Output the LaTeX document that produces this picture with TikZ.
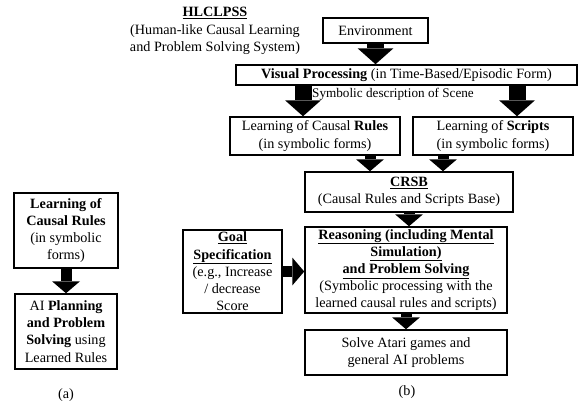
\documentclass[tikz,border=0pt]{standalone}
\usepackage{fontspec}
\setmainfont{Liberation Serif}
\usetikzlibrary{arrows.meta,positioning}

\begin{document}
\begin{tikzpicture}[x=1pt,y=-1pt,
		font=\fontsize{14.2}{17.2}\selectfont,
		box node/.style={rectangle,draw,line width=1.5pt,align=center,inner sep=0pt},
		fat arrow/.style={line width=17pt,-{Triangle[length=16pt,width=36pt,line width=0pt]}},
		thin arrow/.style={line width=11pt,-{Triangle[length=12pt,width=28pt,line width=0pt]}}]

		\useasboundingbox (0,0) rectangle (581,405);

		% (a)
		\node[box node,minimum width=104pt,minimum height=75pt] (lrules) at (66,230.5)
			{\textbf{Learning of}\\\textbf{Causal Rules}\\(in symbolic\\forms)};
		\node[box node,minimum width=102pt,minimum height=75pt] (lplan) at (66,331.5)
			{AI \textbf{Planning}\\\textbf{and Problem}\\\textbf{Solving} using\\Learned Rules};
		\node (capa) at (66,395) {(a)};

		% (b)
		\node[align=center] (title) at (215,31)
			{\underline{\textbf{HLCLPSS}}\\(Human-like Causal Learning\\and Problem Solving System)};
		\node[box node,minimum width=105pt,minimum height=25pt] (env) at (375.5,30.5) {Environment};
		\node[box node,minimum width=341pt,minimum height=20pt] (vis) at (406.5,75)
			{\textbf{Visual Processing} (in Time-Based/Episodic Form)};
		\node[font=\fontsize{13.2}{15}\selectfont] (scene) at (393,94) {Symbolic description of Scene};
		\node[box node,minimum width=170pt,minimum height=38pt] (rules) at (315,136)
			{Learning of Causal \textbf{Rules}\\(in symbolic forms)};
		\node[box node,minimum width=160pt,minimum height=38pt] (scripts) at (493,136)
			{Learning of \textbf{Scripts}\\(in symbolic forms)};
		\node[box node,minimum width=208pt,minimum height=40pt] (crsb) at (409,192)
			{\underline{\textbf{CRSB}}\\(Causal Rules and Scripts Base)};
		\node[box node,minimum width=202pt,minimum height=86pt] (reason) at (406,270)
			{\underline{\textbf{Reasoning (including Mental}}\\\underline{\textbf{Simulation)}}\\
			\underline{\textbf{and Problem Solving}}\\(Symbolic processing with the\\learned causal rules and scripts)};
		\node[box node,minimum width=99pt,minimum height=83pt] (goal) at (232.5,271.5)
			{\underline{\textbf{Goal}}\\\underline{\textbf{Specification}}\\(e.g., Increase\\/ decrease\\Score};
		\node[box node,minimum width=202pt,minimum height=45pt] (solve) at (406,352.5)
			{Solve Atari games and\\general AI problems};
		\node (capb) at (407,392) {(b)};

		% block arrows
		\draw[thin arrow] (lrules) -- (lplan);
		\draw[fat arrow] (env.south) -- (env.south |- vis.north);
		\draw[fat arrow] ([xshift=-12pt]rules.north |- vis.south) -- ([xshift=-12pt]rules.north);
		\draw[fat arrow] ([xshift=24pt]scripts.north |- vis.south) -- ([xshift=24pt]scripts.north);
		\draw[thin arrow] ([xshift=-39pt]crsb.north |- rules.south) -- ([xshift=-39pt]crsb.north);
		\draw[thin arrow] ([xshift=34pt]crsb.north |- scripts.south) -- ([xshift=34pt]crsb.north);
		\draw[thin arrow] (crsb.south) -- (crsb.south |- reason.north);
		\draw[thin arrow] (goal.east) -- (goal.east -| reason.west);
		\draw[thin arrow] (reason) -- (solve);
\end{tikzpicture}
\end{document}
